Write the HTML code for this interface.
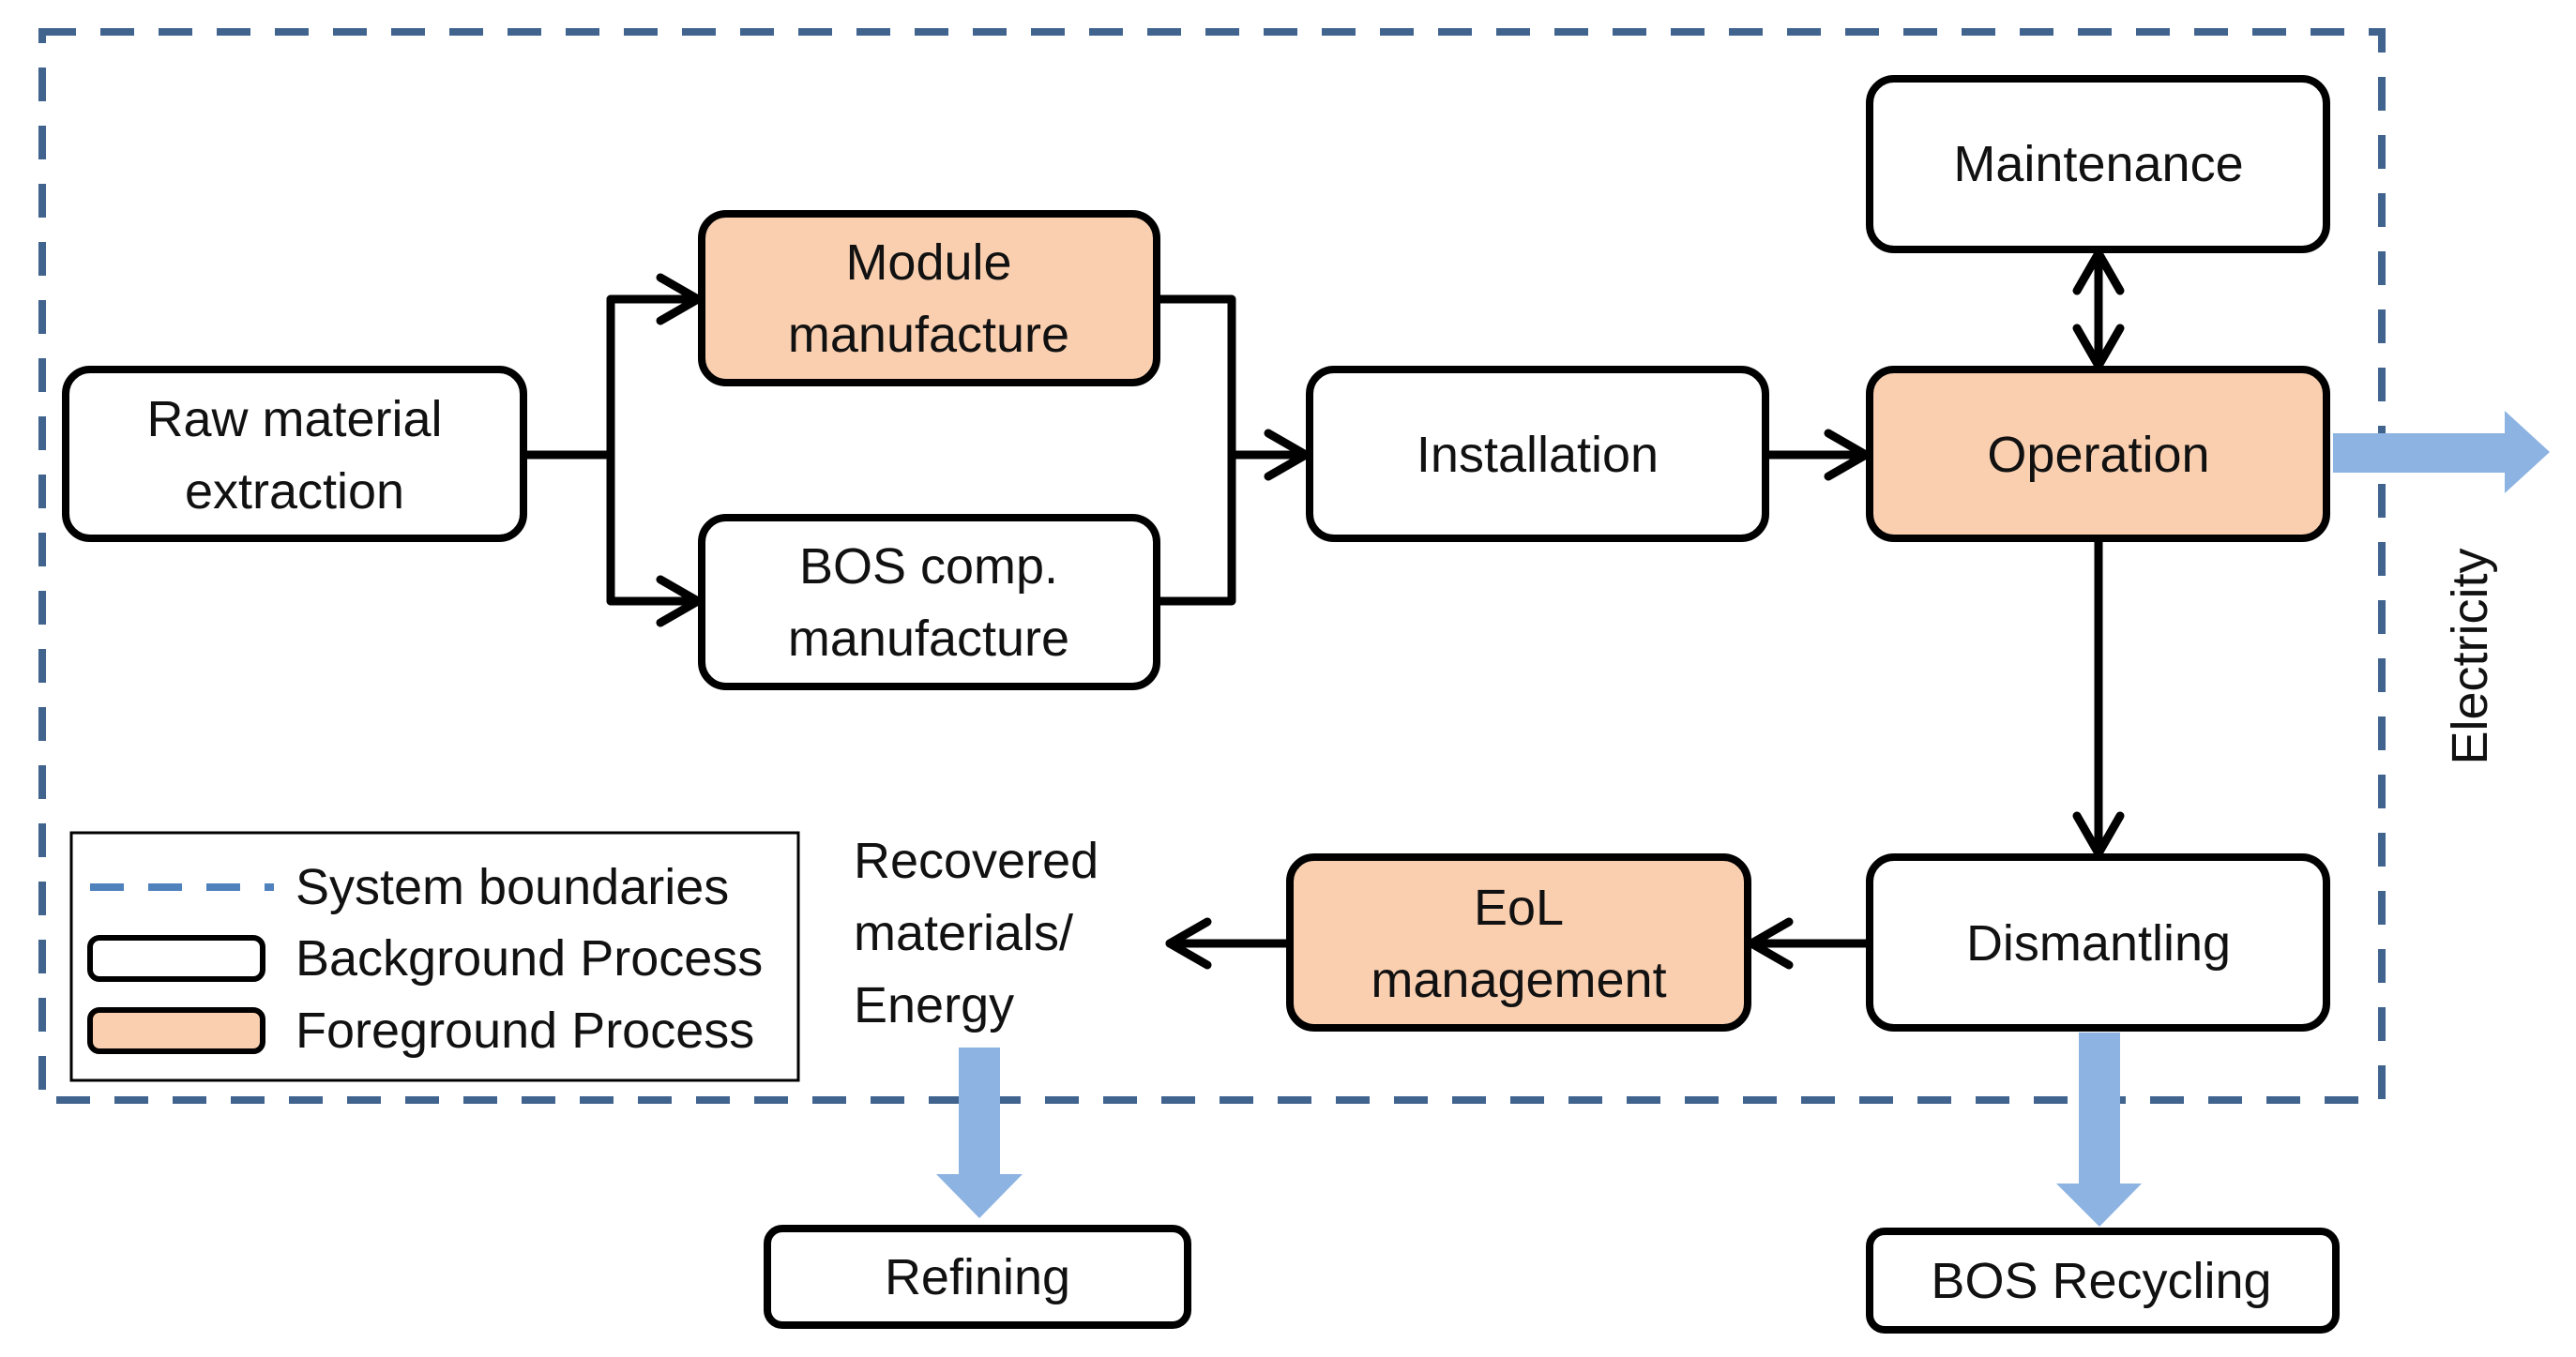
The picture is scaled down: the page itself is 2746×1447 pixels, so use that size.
<!DOCTYPE html>
<html><head><meta charset="utf-8"><style>
html,body{margin:0;padding:0;background:#fff;}
svg{display:block;}
text{font-family:"Liberation Sans",sans-serif;font-size:54px;fill:#111;}
</style></head><body>
<svg width="2746" height="1447" viewBox="0 0 2746 1447" xmlns="http://www.w3.org/2000/svg">
<!-- system boundary -->
<rect x="45" y="34" width="2494" height="1139" fill="none" stroke="#41648f" stroke-width="8" stroke-dasharray="36 26"/>

<!-- connectors -->
<g stroke="#000" stroke-width="9" fill="none" stroke-linecap="round" stroke-linejoin="round">
<polyline points="557,485 651,485"/>
<polyline points="651,319 651,641"/>
<polyline points="651,319 744,319"/>
<polyline points="651,641 744,641"/>
<polyline points="704,296 744,319 704,342"/>
<polyline points="704,618 744,641 704,664"/>
<polyline points="1233,319 1313,319 1313,641 1233,641"/>
<polyline points="1313,485 1392,485"/>
<polyline points="1352,462 1392,485 1352,508"/>
<polyline points="1882,485 1989,485"/>
<polyline points="1949,462 1989,485 1949,508"/>
<polyline points="2237,270 2237,390"/>
<polyline points="2214,310 2237,270 2260,310"/>
<polyline points="2214,350 2237,390 2260,350"/>
<polyline points="2237,574 2237,910"/>
<polyline points="2214,870 2237,910 2260,870"/>
<polyline points="1993,1006 1867,1006"/>
<polyline points="1907,983 1867,1006 1907,1029"/>
<polyline points="1375,1006 1247,1006"/>
<polyline points="1287,983 1247,1006 1287,1029"/>
</g>

<!-- blue arrows -->
<g fill="#8db3e2">
<polygon points="2487,462 2670,462 2670,438 2718,482 2670,526 2670,504 2487,504"/>
<polygon points="1022,1117 1066,1117 1066,1252 1090,1252 1044,1299 998,1252 1022,1252"/>
<polygon points="2216,1101 2260,1101 2260,1262 2283,1262 2238,1308 2192,1262 2216,1262"/>
</g>

<!-- boxes -->
<g stroke="#000" stroke-width="8">
<rect x="70" y="394" width="488" height="180" rx="26" fill="#fff"/>
<rect x="748" y="228" width="485" height="180" rx="26" fill="#f9cfb0"/>
<rect x="748" y="552" width="485" height="180" rx="26" fill="#fff"/>
<rect x="1396" y="394" width="486" height="180" rx="26" fill="#fff"/>
<rect x="1993" y="394" width="487" height="180" rx="26" fill="#f9cfb0"/>
<rect x="1993" y="84" width="487" height="182" rx="26" fill="#fff"/>
<rect x="1993" y="914" width="487" height="182" rx="26" fill="#fff"/>
<rect x="1375" y="914" width="488" height="182" rx="26" fill="#f9cfb0"/>
<rect x="818" y="1310" width="448" height="103" rx="16" fill="#fff"/>
<rect x="1993" y="1313" width="497" height="105" rx="16" fill="#fff"/>
</g>

<g text-anchor="middle" dominant-baseline="central">
<text x="314" y="447">Raw material</text>
<text x="314" y="524">extraction</text>
<text x="990" y="280">Module</text>
<text x="990" y="357">manufacture</text>
<text x="990" y="604">BOS comp.</text>
<text x="990" y="681">manufacture</text>
<text x="1639" y="485">Installation</text>
<text x="2237" y="485">Operation</text>
<text x="2237" y="175">Maintenance</text>
<text x="2237" y="1006">Dismantling</text>
<text x="1619" y="968">EoL</text>
<text x="1619" y="1045">management</text>
<text x="1042" y="1362">Refining</text>
<text x="2240" y="1366">BOS Recycling</text>
<text x="0" y="0" transform="translate(2633,700) rotate(-90)">Electricity</text>
</g>
<g dominant-baseline="central">
<text x="910" y="918">Recovered</text>
<text x="910" y="995">materials/</text>
<text x="910" y="1072">Energy</text>
</g>

<!-- legend -->
<rect x="76" y="888" width="775" height="264" fill="#fff" stroke="#000" stroke-width="3"/>
<line x1="96" y1="946" x2="292" y2="946" stroke="#4f81bd" stroke-width="8" stroke-dasharray="36 26"/>
<rect x="96" y="1000" width="184" height="44" rx="10" fill="#fff" stroke="#000" stroke-width="6"/>
<rect x="96" y="1077" width="184" height="44" rx="10" fill="#f9cfb0" stroke="#000" stroke-width="6"/>
<g dominant-baseline="central">
<text x="315" y="946">System boundaries</text>
<text x="315" y="1022">Background Process</text>
<text x="315" y="1099">Foreground Process</text>
</g>
</svg>
</body></html>
